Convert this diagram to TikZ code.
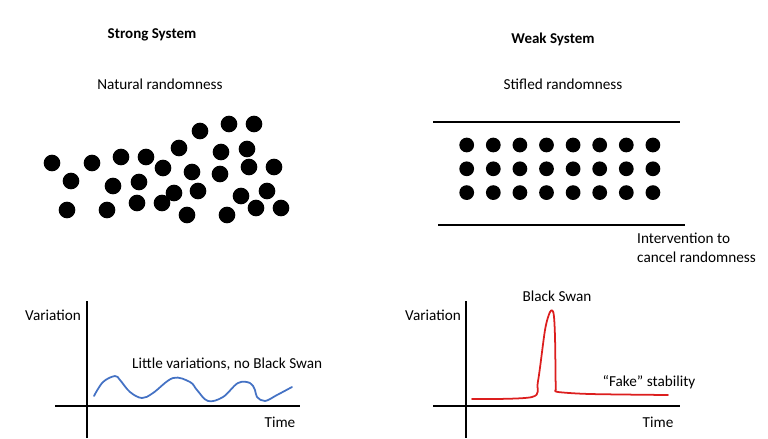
\documentclass[tikz,border=0pt]{standalone}
\usepackage{fontspec}
\setmainfont{Carlito}
\usetikzlibrary{positioning}

\definecolor{curveblue}{RGB}{68,114,196}
\definecolor{curvered}{RGB}{220,30,30}

\begin{document}
\begin{tikzpicture}[
  x=0.03cm, y=-0.03cm,
  font=\fontsize{13}{16}\selectfont,
  heading/.style={font=\fontsize{12.8}{15}\selectfont\bfseries, inner sep=0pt},
  caption/.style={inner sep=0pt},
  axis/.style={line width=1.5pt},
  bound/.style={line width=1.5pt},
  wave/.style={line width=1.5pt, draw=#1, line cap=round, line join=round}
]

\useasboundingbox (0,0) rectangle (768,438);

% ── Titles ───────────────────────────────────────────────────────────────────
\node[heading] (strong) at (152,35) {Strong System};
\node[heading] (weak)   at (553,39) {Weak System};

\node[caption] (natural) at (160,84) {Natural randomness};
\node[caption] (stifled) at (563,84) {Stifled randomness};

% ── Strong system: scattered balls ──────────────────────────────────────────
\foreach \bx/\by in {52/163, 92/163, 71/181, 121/157, 146/157, 179/148,
    200/131, 229/124, 254/124, 221/152, 247/149, 113/186, 139/182,
    163/168, 192/172, 220/174, 249/167, 274/167, 67/210, 107/210,
    137/203, 162/203, 174/193, 198/191, 187/215, 227/215, 241/196,
    267/191, 256/208, 281/208}
  \fill (\bx,\by) circle (7.1pt);

% ── Weak system: balls in a grid between two bounds ─────────────────────────
\coordinate (topL) at (433,122);
\coordinate (topR) at (680,122);
\coordinate (botL) at (438,225);
\coordinate (botR) at (685,225);
\draw[bound] (topL) -- (topR);
\draw[bound] (botL) -- (botR);

\foreach \col in {0,...,7}
  \foreach \row in {0,1,2}
    \fill ({466.7+26.6*\col},{145+23.8*\row}) circle (6.3pt);

\node[caption, anchor=west, align=left] (interv) at (637,248)
  {Intervention to\\cancel randomness};

% ── Strong system: variation over time ──────────────────────────────────────
\coordinate (lyTop) at (87,301);
\coordinate (lyBot) at (87,438);
\coordinate (lxL)   at (55,406);
\coordinate (lxR)   at (300,406);
\draw[axis] (lyTop) -- (lyBot);
\draw[axis] (lxL) -- (lxR);

\node[caption, anchor=west] (lvar)  at (25,315) {Variation};
\node[caption] (ltime) at (280,422) {Time};
\node[caption, anchor=west] (little) at (132,364)
  {Little variations, no Black Swan};

\draw[wave=curveblue] plot[smooth, tension=0.6] coordinates {
  (94,396) (103,382) (115,376) (120,380) (130,392) (142,398) (153,393)
  (173,378) (190,382) (197,390) (208,401) (223,397) (238,383) (250,383)
  (255,390) (257,397) (265,401) (277,395) (292,387)};

% ── Weak system: variation over time ────────────────────────────────────────
\coordinate (ryTop) at (466,301);
\coordinate (ryBot) at (466,438);
\coordinate (rxL)   at (433,406);
\coordinate (rxR)   at (680,406);
\draw[axis] (ryTop) -- (ryBot);
\draw[axis] (rxL) -- (rxR);

\node[caption, anchor=west] (rvar)  at (405,315) {Variation};
\node[caption] (rtime) at (658,422) {Time};
\node[caption] (swan)  at (557,296) {Black Swan};
\node[caption] (fake)  at (649,382) {“Fake” stability};

\draw[wave=curvered] plot[smooth, tension=0.5] coordinates {
  (472,399) (532,397) (538,381) (545,330) (550,312) (553.5,313)
  (555,337) (555.7,390)};
\draw[wave=curvered] plot[smooth, tension=0.5] coordinates {
  (555.7,390) (558,392) (590,394) (668,395)};

\end{tikzpicture}
\end{document}
